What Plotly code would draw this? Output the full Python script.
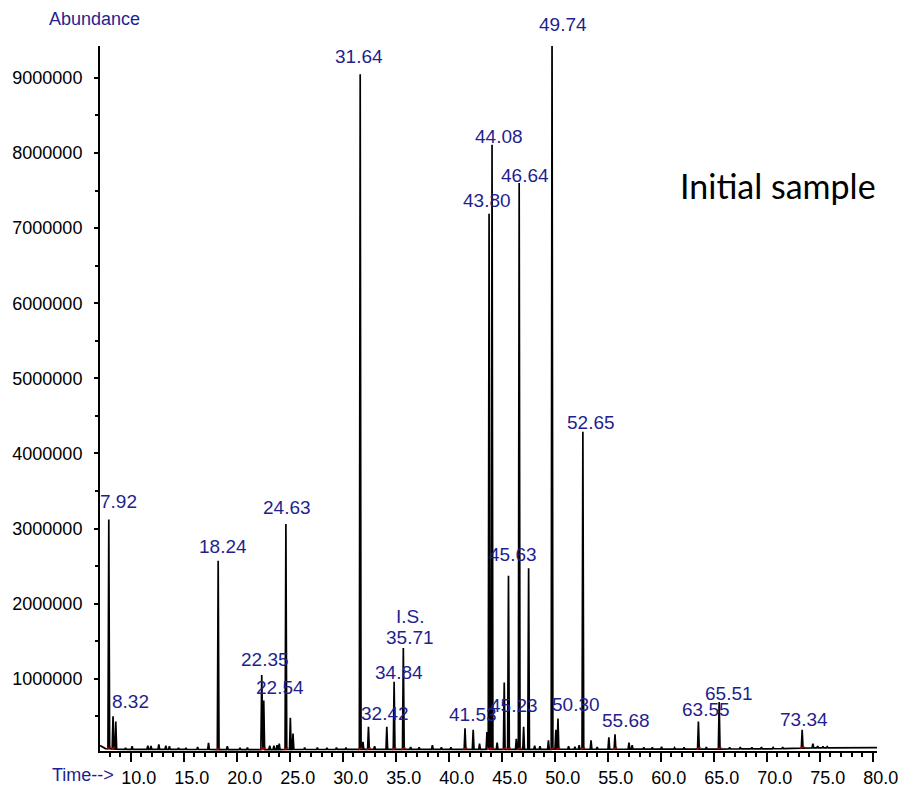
import numpy as np
import plotly.graph_objects as go

# ---------------- data ----------------
peak_rt = [7.92, 8.32, 8.58, 9.5, 10.12, 11.6, 11.9, 12.64, 13.3, 13.64, 14.5, 15.2, 16.3,
           17.33, 18.24, 19.1, 20.3, 21.0, 22.35, 22.54, 23.1, 23.5, 23.8, 24.0, 24.63, 25.05,
           25.3, 26.4, 27.6, 28.5, 29.4, 30.3, 31.64, 31.9, 32.42, 33.0, 34.15, 34.84, 35.71,
           36.4, 37.2, 38.45, 39.3, 40.2, 41.53, 42.3, 42.9, 43.6, 43.80, 44.08, 44.56, 45.23,
           45.63, 46.37, 46.64, 47.06, 47.53, 48.1, 48.6, 49.4, 49.74, 50.10, 50.30, 51.3,
           51.9, 52.3, 52.65, 53.42, 54.0, 55.1, 55.68, 57.0, 57.3, 58.4, 59.2, 60.07, 61.3,
           62.2, 63.55, 64.3, 65.51, 66.5, 67.5, 68.6, 69.5, 70.6, 71.5, 73.34, 74.35, 74.8,
           75.3, 75.7, 77.0, 78.5]
peak_abund = [3120000, 500000, 430000, 80000, 100000, 110000, 105000, 127000, 110000, 100000,
              80000, 78000, 90000, 145000, 2570000, 100000, 80000, 82000, 1050000, 710000,
              110000, 110000, 115000, 135000, 3060000, 480000, 270000, 85000, 85000, 80000,
              82000, 85000, 9050000, 160000, 360000, 100000, 360000, 960000, 1410000, 90000,
              85000, 115000, 85000, 88000, 340000, 320000, 135000, 290000, 7190000, 8110000,
              150000, 950000, 2370000, 200000, 7600000, 360000, 2470000, 110000, 100000, 180000,
              9700000, 320000, 470000, 100000, 95000, 115000, 4290000, 180000, 90000, 220000,
              260000, 150000, 115000, 85000, 85000, 95000, 82000, 85000, 430000, 90000, 690000,
              85000, 88000, 85000, 88000, 85000, 90000, 320000, 135000, 105000, 100000, 95000,
              90000, 88000]

baseline_rt = [7.09, 7.6, 9.0, 20.0, 40.0, 60.0, 70.0, 75.0, 80.4]
baseline_abund = [110000, 70000, 60000, 57000, 60000, 62000, 66000, 80000, 82000]

label_text = ["7.92", "8.32", "18.24", "22.35", "22.54", "24.63", "31.64", "32.42", "34.84",
              "35.71", "41.53", "43.80", "44.08", "45.23", "45.63", "46.64", "49.74", "50.30",
              "52.65", "55.68", "63.55", "65.51", "73.34"]

x_tick_vals = [10, 15, 20, 25, 30, 35, 40, 45, 50, 55, 60, 65, 70, 75, 80]
x_tick_text = ["10.0", "15.0", "20.0", "25.0", "30.0", "35.0", "40.0", "45.0", "50.0",
               "55.0", "60.0", "65.0", "70.0", "75.0", "80.0"]
y_tick_vals = [1000000, 2000000, 3000000, 4000000, 5000000, 6000000, 7000000, 8000000, 9000000]
y_tick_text = ["1000000", "2000000", "3000000", "4000000", "5000000", "6000000", "7000000",
               "8000000", "9000000"]

# ---------------- styling ----------------
X_RANGE = [7.09, 80.4]
Y_RANGE = [38000, 9425000]
HALF_W = 0.08
NAVY = "#1f1f8f"
FONT = "Arial, Liberation Sans, sans-serif"

# label pixel offsets (dx, dy) relative to peak apex
label_dx = [10, 17, 5, 3, 16, 1, -1, 17, 5, 7, 8, -2, 7, 10, 5, 6, 11, 18, 8, 11, 8, 10, 2]
label_dy = [18, 15, 14, 15, 13, 17, 18, 13, 9, 10, 14, 13, 8, -23, 21, 8, 22, 14, 9, 14, 12, 9, 10]

# ---------------- build trace geometry ----------------
def base_at(t):
    return float(np.interp(t, baseline_rt, baseline_abund))

pts = [(t, v) for t, v in zip(baseline_rt, baseline_abund)]
for t, h in zip(peak_rt, peak_abund):
    pts.append((t - HALF_W, base_at(t - HALF_W)))
    pts.append((t, h))
    pts.append((t + HALF_W, base_at(t + HALF_W)))
pts.sort(key=lambda p: p[0])
xs = [p[0] for p in pts]
ys = [p[1] for p in pts]

# red integration markers at bases of labelled peaks
rx, ry = [], []
for s in label_text:
    t = float(s)
    rx += [t - 0.2, t + 0.2, None]
    ry += [base_at(t) - 5000, base_at(t) + 25000, None]

fig = go.Figure()
fig.add_trace(go.Scatter(x=xs, y=ys, mode="lines",
                         line=dict(color="black", width=1.7), hoverinfo="skip"))
fig.add_trace(go.Scatter(x=rx, y=ry, mode="lines",
                         line=dict(color="#b00000", width=1.5), hoverinfo="skip"))

pk = dict(zip(peak_rt, peak_abund))
anns = []
for s, dx, dy in zip(label_text, label_dx, label_dy):
    t = float(s)
    h = min(pk.get(t, 0), Y_RANGE[1])
    anns.append(dict(x=t, y=h, text=s, showarrow=False, xshift=dx, yshift=dy,
                     xanchor="center", yanchor="middle",
                     font=dict(family=FONT, size=19, color=NAVY)))
# internal standard tag
anns.append(dict(x=35.71, y=pk[35.71], text="I.S.", showarrow=False, xshift=7, yshift=31,
                 xanchor="center", yanchor="middle", font=dict(family=FONT, size=19, color=NAVY)))
anns.append(dict(xref="paper", yref="paper", x=-0.0077, y=1.038, text="Abundance",
                 showarrow=False, xanchor="center", yanchor="middle",
                 font=dict(family=FONT, size=18, color=NAVY)))
anns.append(dict(xref="paper", yref="paper", x=-0.022, y=-0.034, text="Time-->",
                 showarrow=False, xanchor="center", yanchor="middle",
                 font=dict(family=FONT, size=18, color=NAVY)))
anns.append(dict(xref="paper", yref="paper", x=0.872, y=0.802, text="Initial sample",
                 showarrow=False, xanchor="center", yanchor="middle",
                 font=dict(family="Lato, Open Sans, sans-serif", size=34, color="black")))

fig.update_layout(
    width=910, height=800,
    margin=dict(l=97, r=33, t=46, b=44),
    paper_bgcolor="white", plot_bgcolor="white",
    showlegend=False,
    annotations=anns,
    xaxis=dict(range=X_RANGE, showgrid=False, zeroline=False,
               showline=True, linecolor="black", linewidth=2,
               ticks="outside", ticklen=9, tickwidth=2, tickcolor="black",
               tickvals=x_tick_vals, ticktext=x_tick_text,
               ticklabelshift=8,
               tickfont=dict(family=FONT, size=18, color="black"),
               minor=dict(ticks="outside", ticklen=4, tickwidth=1.5, tickcolor="black",
                          tick0=0, dtick=1)),
    yaxis=dict(range=Y_RANGE, showgrid=False, zeroline=False,
               showline=True, linecolor="black", linewidth=2,
               ticks="outside", ticklen=4, tickwidth=2, tickcolor="black",
               tickvals=y_tick_vals, ticktext=y_tick_text,
               ticklabelstandoff=8,
               tickfont=dict(family=FONT, size=18, color="black"),
               minor=dict(ticks="outside", ticklen=3, tickwidth=1.5, tickcolor="black",
                          tick0=0, dtick=500000)),
)

fig.write_html("out.html")
